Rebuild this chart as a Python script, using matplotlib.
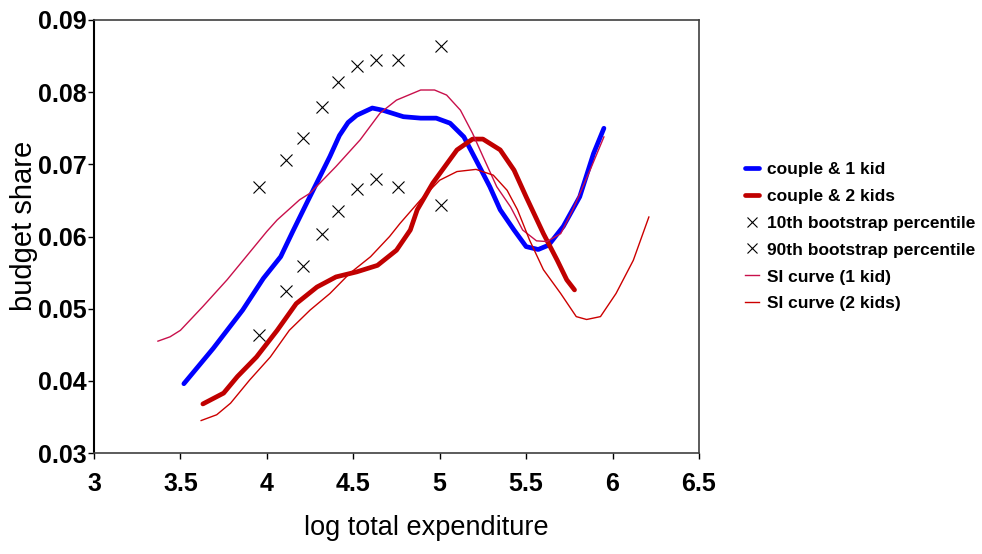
import matplotlib.pyplot as plt

plt.rcParams['font.family'] = ['Liberation Sans', 'DejaVu Sans']

# couple & 1 kid (kernel fit)
kid1_x = [3.52, 3.69, 3.86, 3.98, 4.08, 4.15, 4.23, 4.365, 4.42, 4.47, 4.52, 4.61, 4.67,
          4.79, 4.89, 4.98, 5.06, 5.14, 5.21, 5.29, 5.35, 5.43, 5.50, 5.57, 5.63,
          5.715, 5.81, 5.89, 5.95]
kid1_y = [0.0396, 0.0445, 0.0498, 0.0542, 0.0572, 0.0607, 0.0646, 0.0711, 0.0740,
          0.0758, 0.0768, 0.0778, 0.0775, 0.0766, 0.0764, 0.0764, 0.0757, 0.0738,
          0.0706, 0.0669, 0.0637, 0.0609, 0.0586, 0.0582, 0.0588, 0.0614, 0.0655,
          0.0715, 0.0750]

# couple & 2 kids (kernel fit)
kid2_x = [3.63, 3.75, 3.83, 3.94, 4.06, 4.17, 4.29, 4.40, 4.52, 4.64, 4.75, 4.83,
          4.87, 4.96, 5.10, 5.19, 5.25, 5.35, 5.43, 5.50, 5.60, 5.68, 5.735, 5.78]
kid2_y = [0.0368, 0.0383, 0.0406, 0.0433, 0.0470, 0.0507, 0.0530, 0.0544, 0.0551,
          0.0560, 0.0581, 0.0609, 0.0637, 0.0674, 0.0720, 0.0735, 0.0735, 0.0720,
          0.0692, 0.0655, 0.0604, 0.0567, 0.0540, 0.0526]

# bootstrap percentiles
boot_x = [3.955, 4.11, 4.21, 4.32, 4.41, 4.52, 4.63, 4.76, 5.01]
p10 = [0.0464, 0.0524, 0.0559, 0.0603, 0.0635, 0.0666, 0.0680, 0.0668, 0.0644]
p90 = [0.0668, 0.0706, 0.0737, 0.0779, 0.0814, 0.0836, 0.0844, 0.0844, 0.0864]

# shape invariant curves
si1_x = [3.37, 3.44, 3.50, 3.63, 3.77, 3.88, 4.00, 4.06, 4.19, 4.25, 4.40, 4.54,
         4.655, 4.75, 4.89, 4.97, 5.04, 5.12, 5.19, 5.25, 5.33, 5.41, 5.48, 5.56,
         5.62, 5.70, 5.77, 5.87, 5.95]
si1_y = [0.0455, 0.0461, 0.0470, 0.0503, 0.0540, 0.0572, 0.0607, 0.0623, 0.0651,
         0.0660, 0.0697, 0.0734, 0.0771, 0.0789, 0.0803, 0.0803, 0.0796, 0.0775,
         0.0743, 0.0711, 0.0669, 0.0641, 0.0609, 0.0594, 0.0593, 0.0604, 0.0637,
         0.0692, 0.0738]

si2_x = [3.62, 3.71, 3.79, 3.90, 4.02, 4.13, 4.25, 4.365, 4.48, 4.60, 4.71, 4.77,
         4.89, 5.00, 5.10, 5.21, 5.31, 5.39, 5.45, 5.52, 5.60, 5.70, 5.79, 5.85,
         5.93, 6.02, 6.12, 6.21]
si2_y = [0.0345, 0.0353, 0.0369, 0.0401, 0.0433, 0.0470, 0.0498, 0.0521, 0.0549,
         0.0572, 0.0600, 0.0618, 0.0651, 0.0678, 0.0690, 0.0693, 0.0685, 0.0664,
         0.0637, 0.0595, 0.0554, 0.0521, 0.0489, 0.0485, 0.0489, 0.0521, 0.0567,
         0.0627]

fig = plt.figure(figsize=(9.82, 5.54), dpi=100)
ax = fig.add_axes([0.0957, 0.1823, 0.6161, 0.7816])

ax.plot(kid1_x, kid1_y, color='#0000FF', lw=3.4, solid_capstyle='round',
        solid_joinstyle='round', label='couple & 1 kid')
ax.plot(kid2_x, kid2_y, color='#C00000', lw=3.4, solid_capstyle='round',
        solid_joinstyle='round', label='couple & 2 kids')
ax.plot(boot_x, p10, 'x', color='black', ms=8, mew=0.8,
        label='10th bootstrap percentile')
ax.plot(boot_x, p90, 'x', color='black', ms=8, mew=0.8,
        label='90th bootstrap percentile')
ax.plot(si1_x, si1_y, color='#C8104B', lw=1.0, label='SI curve (1 kid)')
ax.plot(si2_x, si2_y, color='#CC0000', lw=1.0, label='SI curve (2 kids)')

ax.set_xlim(3, 6.5)
ax.set_ylim(0.03, 0.09)
ax.set_xticks([3, 3.5, 4, 4.5, 5, 5.5, 6, 6.5])
ax.set_xticklabels(['3', '3.5', '4', '4.5', '5', '5.5', '6', '6.5'])
ax.set_yticks([0.03, 0.04, 0.05, 0.06, 0.07, 0.08, 0.09])
ax.set_yticklabels(['0.03', '0.04', '0.05', '0.06', '0.07', '0.08', '0.09'])
ax.tick_params(direction='out', length=4, width=1, labelsize=18)
ax.tick_params(axis='x', pad=10)
ax.tick_params(axis='y', pad=1)
for lab in ax.get_xticklabels() + ax.get_yticklabels():
    lab.set_fontweight('bold')

for side in ['top', 'right']:
    ax.spines[side].set_color('#404040')
    ax.spines[side].set_linewidth(1.2)
ax.spines['left'].set_linewidth(1.5)
ax.spines['bottom'].set_color('#404040')
ax.spines['bottom'].set_linewidth(1.2)

ax.set_xlabel('log total expenditure', fontsize=19.5)
ax.set_ylabel('budget share', fontsize=21)
ax.xaxis.set_label_coords(0.55, -0.143)
ax.yaxis.set_label_coords(-0.093, 0.524)

ax.legend(loc='center left', bbox_to_anchor=(1.05, 0.50), frameon=False,
          prop={'weight': 'bold', 'size': 12.5}, handlelength=0.8,
          handletextpad=0.5, labelspacing=0.68, markerscale=0.85)

plt.savefig('out.png', dpi=100)
